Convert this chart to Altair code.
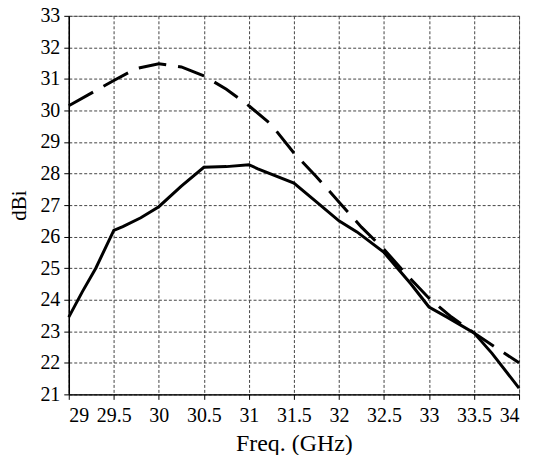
import altair as alt
import pandas as pd

solid_x = [29, 29.15, 29.3, 29.5, 29.6, 29.8, 30, 30.25, 30.5, 30.75, 31, 31.1, 31.5, 31.75, 32, 32.2, 32.5, 32.8, 33, 33.2, 33.5, 33.7, 34]
solid_y = [23.45, 24.25, 25.0, 26.2, 26.32, 26.6, 26.95, 27.6, 28.2, 28.22, 28.28, 28.15, 27.7, 27.1, 26.5, 26.15, 25.5, 24.5, 23.77, 23.45, 22.95, 22.3, 21.2]

dash_x = [29, 29.25, 29.5, 29.75, 30, 30.25, 30.5, 30.75, 31, 31.25, 31.5, 31.75, 32, 32.25, 32.5, 32.75, 33, 33.25, 33.5, 33.75, 34]
dash_y = [30.15, 30.55, 30.95, 31.33, 31.48, 31.38, 31.1, 30.67, 30.15, 29.55, 28.65, 27.9, 27.1, 26.3, 25.6, 24.8, 24.05, 23.45, 22.95, 22.47, 22.0]

x_ticks = [29, 29.5, 30, 30.5, 31, 31.5, 32, 32.5, 33, 33.5, 34]
y_ticks = list(range(21, 34))

df_s = pd.DataFrame({"f": solid_x, "g": solid_y})
df_d = pd.DataFrame({"f": dash_x, "g": dash_y})

FONT = "Liberation Serif"

x_enc = alt.X("f:Q", scale=alt.Scale(domain=[29, 34], nice=False, zero=False),
              axis=alt.Axis(values=x_ticks, format="~g", title="Freq. (GHz)",
                            labelPadding=6, titleFontSize=24, titlePadding=6))
y_enc = alt.Y("g:Q", scale=alt.Scale(domain=[21, 33], nice=False, zero=False),
              axis=alt.Axis(values=y_ticks, title="dBi", labelPadding=4,
                            titleFontSize=21, titlePadding=10))

solid = alt.Chart(df_s).mark_line(color="black", strokeWidth=3).encode(x=x_enc, y=y_enc)
dashed = alt.Chart(df_d).mark_line(color="black", strokeWidth=3, strokeDash=[28, 12]).encode(x=x_enc, y=y_enc)

chart = (solid + dashed).properties(
    width=452, height=380,
    autosize=alt.AutoSizeParams(type="none"),
    padding={"left": 61, "top": 7, "right": 10, "bottom": 60},
).configure_view(stroke="#888888", strokeWidth=1).configure_axis(
    labelFont=FONT, titleFont=FONT, labelFontSize=20,
    labelColor="black", titleColor="black", titleFontWeight="normal",
    domainColor="black", domainWidth=1.5, tickColor="black", tickSize=5,
    gridColor="#444444", gridDash=[3, 2], gridWidth=1, gridOpacity=1,
)

chart.save("out.html", embed_options={"renderer": "svg", "actions": False})
